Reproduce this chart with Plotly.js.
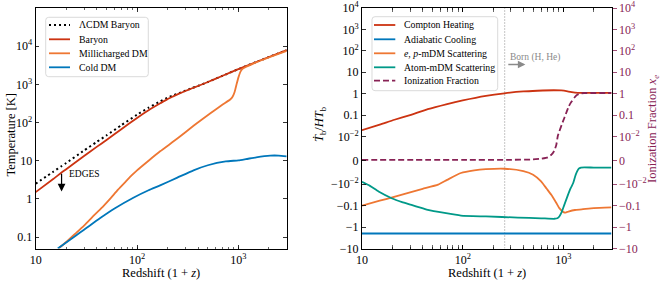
<!DOCTYPE html>
<html><head><meta charset="utf-8">
<script src="https://cdn.plot.ly/plotly-3.0.1.min.js"></script>
<style>html,body{margin:0;padding:0;background:#fff}#chart{width:664px;height:282px}</style>
</head><body><div id="chart"></div>
<script>
// ---------- Left panel: temperatures [K] vs redshift (1+z) ----------
const lcdmZ   = [10,15,18,20,30,40,50,70,100,130,170,200,230,260,300,350,400,500,700,1000,1500,2000,3000];
const lcdmT   = [2.5,5.2,7.2,8.7,18.5,31,46,85,160,245,360,450,520,590,685,800,910,1150,1680,2500,3850,5200,7900];
const baryonZ = [10,15,18,20,30,40,50,70,100,130,170,200,230,260,300,350,400,500,700,1000,1500,2000,3000];
const baryonT = [1.5,3.35,4.9,6.0,13.3,23,35,67,132,210,320,410,490,570,670,790,905,1150,1680,2500,3850,5200,7900];
const mdmZ    = [16.8,20,24.4,30,38,46.6,55,65,78,90,100,130,169,250,361,530,700,830,880,920,960,1000,1050,1100,1170,1250,1400,2000,3000];
const mdmT    = [0.05,0.074,0.12,0.2,0.38,0.65,1.05,1.75,2.9,4.3,5.6,10,17.6,38,82,175,295,400,480,640,1000,1500,2150,2550,2800,3050,3500,5050,7500];
const cdmZ    = [16.5,20,25,30,43,60,92,130,169,250,361,500,751,1000,1188,1500,2065,2500,3000];
const cdmT    = [0.05,0.072,0.11,0.155,0.31,0.56,1.07,1.68,2.25,3.6,5.6,7.6,9.6,10.2,11.0,12.3,13.6,13.6,12.9];
const edgesZ = 18, edgesTop = 5.0, edgesBottom = 1.55;

// ---------- Right panel: heating / cooling rates (symlog) ----------
const comptonZ = [10,15,21,30,45,70,100,170,260,400,550,800,950,1100,1300,1600,2000,3000];
const comptonR = [0.02,0.036,0.061,0.1,0.19,0.33,0.49,0.8,1.05,1.28,1.38,1.45,1.42,1.3,1.12,1.09,1.09,1.09];
const adiabZ = [10,3000];
const adiabR = [-2,-2];
const epZ = [10,15,20,30,40,57,70,96,130,170,260,400,500,600,680,760,850,910,1000,1050,1120,1300,1520,2000,3000];
const epR = [-0.1,-0.059,-0.041,-0.024,-0.0165,-0.0105,-0.0082,-0.0053,-0.0042,-0.0037,-0.0035,-0.0045,-0.006,-0.0088,-0.016,-0.032,-0.075,-0.13,-0.2,-0.21,-0.19,-0.16,-0.15,-0.13,-0.12];
const atomZ = [10,12,14.6,19.7,25,31,38,45,66,96,170,353,600,811,870,910,960,1020,1100,1180,1250,1325,1420,1490,2000,3000];
const atomR = [-0.009,-0.012,-0.022,-0.045,-0.068,-0.092,-0.125,-0.158,-0.22,-0.29,-0.32,-0.36,-0.39,-0.41,-0.39,-0.32,-0.2,-0.092,-0.035,-0.0153,-0.0095,-0.006,-0.0035,-0.003,-0.003,-0.003];
const ionZ = [10,100,300,500,600,700,760,810,850,880,910,960,1020,1080,1130,1200,1276,1350,1430,1520,1600,2000,3000];
const ionX = [0.0002,0.00022,0.00025,0.0004,0.0007,0.0013,0.0024,0.004,0.0066,0.011,0.0175,0.035,0.074,0.15,0.26,0.42,0.63,0.85,0.975,1.05,1.08,1.08,1.08];
const bornZ = 261;

// ---------- Ticks ----------
const xTickVals = [10,100,1000];
const xTickText = ['10','10<sup>2</sup>','10<sup>3</sup>'];
const tTickVals = [0.1,1,10,100,1000,10000];
const tTickText = ['0.1','1','10','10<sup>2</sup>','10<sup>3</sup>','10<sup>4</sup>'];
const symTickVals = [1e4,1e3,100,10,1,0.1,0.01,0,-0.01,-0.1,-1,-10];
const symTickText = ['10<sup>4</sup>','10<sup>3</sup>','10<sup>2</sup>','10','1','0.1','10<sup>\u22122</sup>','0','\u221210<sup>\u22122</sup>','\u22120.1','\u22121','\u221210'];

const leftNames  = ['\u039BCDM Baryon','Baryon','Millicharged DM','Cold DM'];
const rightNames = ['Compton Heating','Adiabatic Cooling','<i>e</i>, <i>p</i>-mDM Scattering','Atom-mDM Scattering','Ionization Fraction'];

// ---------- styles ----------
const SERIF = 'Liberation Serif, Times New Roman, serif';
const RED='#CC3311', ORANGE='#EE7733', BLUE='#0077BB', TEAL='#009988', PURPLE='#882255', GREY='#8a8a8a';
const LW = 1.8;
const leftStyles  = [{c:'#000',d:'2px,3px',w:2},{c:RED,d:'solid',w:LW},{c:ORANGE,d:'solid',w:LW},{c:BLUE,d:'solid',w:LW}];
const rightStyles = [{c:RED,d:'solid',w:LW},{c:BLUE,d:'solid',w:LW},{c:ORANGE,d:'solid',w:LW},{c:TEAL,d:'solid',w:LW},{c:PURPLE,d:'6px,3px',w:LW}];

const LINTHRESH = 0.01, LINSCALE = 1/(1-1/10);
function symlog(v){const a=Math.abs(v); if(a<=LINTHRESH) return v/LINTHRESH*LINSCALE; return Math.sign(v)*(LINSCALE+Math.log10(a/LINTHRESH));}

const W=664,H=282;
const px = x => x/W, py = y => 1-y/H;

function line(x,y,st,xa,ya,name){return {type:'scatter',mode:'lines',x:x,y:y,name:name,xaxis:xa,yaxis:ya,
  line:{color:st.c,width:st.w,dash:st.d,shape:'spline',smoothing:0.5},hoverinfo:'skip',showlegend:false};}

const traces = [
  line(lcdmZ,lcdmT,leftStyles[0],'x','y',leftNames[0]),
  line(baryonZ,baryonT,leftStyles[1],'x','y',leftNames[1]),
  line(mdmZ,mdmT,leftStyles[2],'x','y',leftNames[2]),
  line(cdmZ,cdmT,leftStyles[3],'x','y',leftNames[3]),
  {type:'scatter',mode:'lines',x:[bornZ,bornZ],y:[symlog(-10),symlog(1e4)],xaxis:'x2',yaxis:'y2',
   line:{color:GREY,width:1,dash:'1px,2px'},hoverinfo:'skip',showlegend:false},
  line(comptonZ,comptonR.map(symlog),rightStyles[0],'x2','y2',rightNames[0]),
  line(adiabZ,adiabR.map(symlog),rightStyles[1],'x2','y2',rightNames[1]),
  line(epZ,epR.map(symlog),rightStyles[2],'x2','y2',rightNames[2]),
  line(atomZ,atomR.map(symlog),rightStyles[3],'x2','y2',rightNames[3]),
  line(ionZ,ionX.map(symlog),rightStyles[4],'x2','y3',rightNames[4])
];

const tickFont = {family:SERIF,size:12,color:'#000'};
const axBase = {showline:true,linecolor:'#000',linewidth:1,ticks:'inside',ticklen:3.5,tickwidth:0.8,tickcolor:'#000',
  showgrid:false,zeroline:false,tickfont:tickFont,fixedrange:true,tickmode:'array'};
const minorX = {ticks:'inside',ticklen:2,tickwidth:0.6,tickcolor:'#000',dtick:'D1',showgrid:false};
const yDom = [1-248.5/H, 1-8/H];

const layout = {
  width:W,height:H,margin:{l:0,r:0,t:0,b:0},paper_bgcolor:'#fff',plot_bgcolor:'#fff',showlegend:false,
  font:{family:SERIF,size:12,color:'#000'},
  xaxis:Object.assign({},axBase,{type:'log',domain:[px(35.7),px(286.7)],range:[1,Math.log10(3000)],anchor:'y',mirror:'allticks',
    tickvals:xTickVals,ticktext:xTickText,minor:minorX}),
  yaxis:Object.assign({},axBase,{type:'log',domain:yDom,range:[-1.3,5],anchor:'x',mirror:'allticks',tickvals:tTickVals,ticktext:tTickText}),
  xaxis2:Object.assign({},axBase,{type:'log',domain:[px(362),px(611.5)],range:[1,Math.log10(3000)],anchor:'y2',mirror:'allticks',
    tickvals:xTickVals,ticktext:xTickText,minor:minorX}),
  yaxis2:Object.assign({},axBase,{type:'linear',domain:yDom,range:[symlog(-10),symlog(1e4)],anchor:'x2',mirror:true,
    tickvals:symTickVals.map(symlog),ticktext:symTickText}),
  yaxis3:Object.assign({},axBase,{type:'linear',overlaying:'y2',side:'right',anchor:'x2',range:[symlog(-10),symlog(1e4)],
    showline:false,ticks:'outside',ticklen:4,tickcolor:PURPLE,tickfont:{family:SERIF,size:12,color:PURPLE},
    tickvals:symTickVals.map(symlog),ticktext:symTickText}),
  shapes:[],annotations:[]
};

// axis titles
const tf = (c)=>({family:SERIF,size:12.5,color:c||'#000'});
layout.annotations.push(
  {xref:'paper',yref:'paper',x:px(161),y:py(272.5),text:'Redshift (1 + <i>z</i>)',showarrow:false,font:tf(),xanchor:'center',yanchor:'middle',borderpad:0},
  {xref:'paper',yref:'paper',x:px(487),y:py(272.5),text:'Redshift (1 + <i>z</i>)',showarrow:false,font:tf(),xanchor:'center',yanchor:'middle',borderpad:0},
  {xref:'paper',yref:'paper',x:px(10),y:py(135.5),text:'Temperature [K]',textangle:-90,showarrow:false,font:tf(),xanchor:'center',yanchor:'middle'},
  {xref:'paper',yref:'paper',x:px(320),y:py(124),text:'<i>\u1E6A</i><sub>b</sub>/<i>HT</i><sub>b</sub>',textangle:-90,showarrow:false,font:tf(),xanchor:'center',yanchor:'middle'},
  {xref:'paper',yref:'paper',x:px(653),y:py(129),text:'Ionization Fraction <i>x<sub>e</sub></i>',textangle:-90,showarrow:false,font:tf(PURPLE),xanchor:'center',yanchor:'middle'}
);

// EDGES arrow + label
layout.annotations.push(
  {xref:'x',yref:'y',axref:'x',ayref:'y',x:Math.log10(edgesZ),y:Math.log10(edgesBottom),ax:Math.log10(edgesZ),ay:Math.log10(edgesTop),
   text:'',showarrow:true,arrowhead:2,arrowsize:1.3,arrowwidth:1.2,arrowcolor:'#000',standoff:0,startstandoff:0},
  {xref:'x',yref:'y',x:Math.log10(20.5),y:Math.log10(4.4),text:'EDGES',showarrow:false,xanchor:'left',yanchor:'middle',
   font:{family:SERIF,size:9.5,color:'#000'}}
);
// Born arrow + label
layout.annotations.push(
  {xref:'x2',yref:'y2',axref:'x2',ayref:'y2',x:Math.log10(419),y:4.47,ax:Math.log10(274),ay:4.47,text:'',showarrow:true,
   arrowhead:2,arrowsize:1,arrowwidth:1.5,arrowcolor:GREY,standoff:0,startstandoff:0},
  {xref:'x2',yref:'y2',x:Math.log10(283),y:4.78,text:'Born (H, He)',showarrow:false,xanchor:'left',yanchor:'middle',
   font:{family:SERIF,size:9.5,color:GREY}}
);

// rounded legend frame (paper coordinates)
function roundedRect(x0,y0,x1,y1,r){
  const X=v=>px(v).toFixed(5), Y=v=>py(v).toFixed(5);
  return 'M'+X(x0+r)+','+Y(y0)+' L'+X(x1-r)+','+Y(y0)+' Q'+X(x1)+','+Y(y0)+' '+X(x1)+','+Y(y0+r)+
    ' L'+X(x1)+','+Y(y1-r)+' Q'+X(x1)+','+Y(y1)+' '+X(x1-r)+','+Y(y1)+
    ' L'+X(x0+r)+','+Y(y1)+' Q'+X(x0)+','+Y(y1)+' '+X(x0)+','+Y(y1-r)+
    ' L'+X(x0)+','+Y(y0+r)+' Q'+X(x0)+','+Y(y0)+' '+X(x0+r)+','+Y(y0)+' Z';
}
// manual legends
function addLegend(box, names, styles, lineX0, lineX1, textX, rows){
  layout.shapes.push({type:'path',xref:'paper',yref:'paper',path:roundedRect(box[0],box[1],box[2],box[3],3),
    line:{color:'#d0d0d0',width:0.8},fillcolor:'rgba(255,255,255,0.85)',layer:'above'});
  names.forEach((n,i)=>{
    const st=styles[i];
    layout.shapes.push({type:'line',xref:'paper',yref:'paper',x0:px(lineX0),x1:px(lineX1),y0:py(rows[i]),y1:py(rows[i]),
      line:{color:st.c,width:st.w,dash:st.d},layer:'above'});
    layout.annotations.push({xref:'paper',yref:'paper',x:px(textX),y:py(rows[i]),text:n,showarrow:false,xanchor:'left',yanchor:'middle',
      font:{family:SERIF,size:9.8,color:'#000'}});
  });
}
addLegend([45.7,17.3,148.3,76.7],leftNames,leftStyles,49,70,76.5,[25,39.3,53.3,67.3]);
addLegend([372,16.7,497.7,90.7],rightNames,rightStyles,374,395.3,401.5,[25,39.3,53.3,67.3,80.7]);

Plotly.newPlot('chart',traces,layout,{staticPlot:true,displayModeBar:false});
</script></body></html>
